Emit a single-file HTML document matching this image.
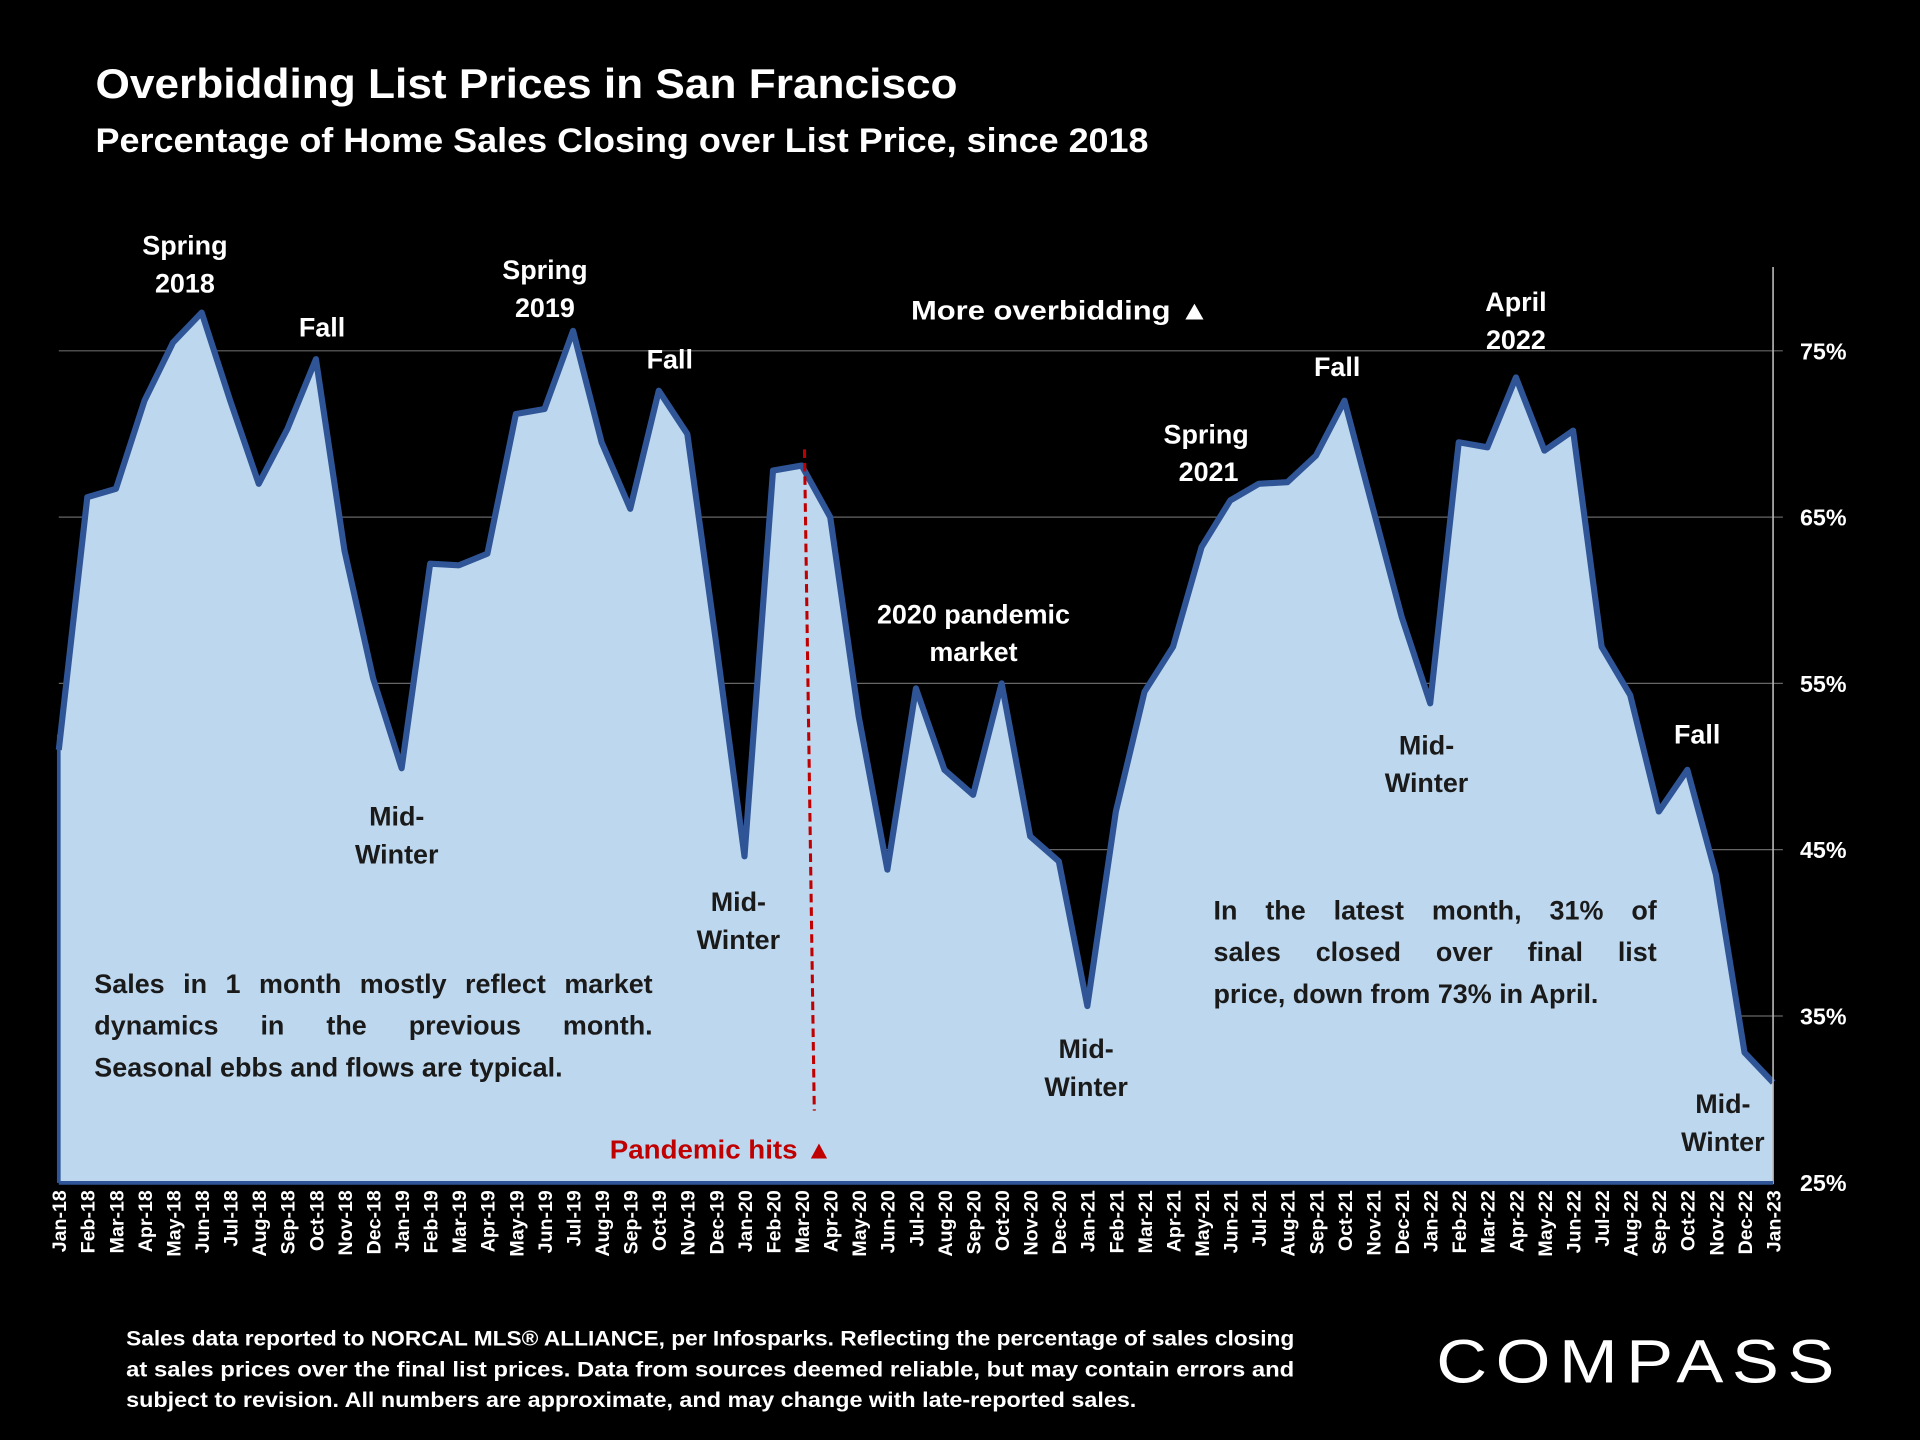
<!DOCTYPE html>
<html><head><meta charset="utf-8"><style>
html,body{margin:0;padding:0;background:#000;width:1920px;height:1440px;overflow:hidden}
svg{display:block}
text{font-family:"Liberation Sans",sans-serif;font-weight:bold}
</style></head><body>
<svg id="chart" width="1920" height="1440" viewBox="0 0 1568 1176" xmlns="http://www.w3.org/2000/svg">
<rect width="1568" height="1176" fill="#000"/>
<text x="78" y="80" fill="#fff" font-size="34" textLength="704" lengthAdjust="spacingAndGlyphs">Overbidding List Prices in San Francisco</text>
<text x="78" y="124" fill="#fff" font-size="28" textLength="860" lengthAdjust="spacingAndGlyphs">Percentage of Home Sales Closing over List Price, since 2018</text>
<g id="grid"></g>
<path id="area" fill="#bdd7ee"/>
<path id="line" fill="none" stroke="#2f5597" stroke-width="5" stroke-linejoin="round"/>
<line x1="1448" y1="218" x2="1448" y2="967" stroke="#bbb" stroke-width="1.3"/>
<line x1="48" y1="966" x2="1448" y2="966" stroke="#2f5597" stroke-width="3"/>
<line x1="48" y1="600" x2="48" y2="966" stroke="#2f5597" stroke-width="3"/>
<g id="yticks"></g>
<g id="xticks"></g>
<line x1="657" y1="367" x2="665" y2="907" stroke="#c00000" stroke-width="2.5" stroke-dasharray="7,4"/>
<text x="498" y="946" fill="#c00000" font-size="21" textLength="182" lengthAdjust="spacingAndGlyphs">Pandemic hits ▲</text>
<g font-size="22" text-anchor="middle" fill="#fff">
<text x="151" y="208">Spring</text>
<text x="151" y="239">2018</text>
<text x="263" y="275">Fall</text>
<text x="445" y="228">Spring</text>
<text x="445" y="259">2019</text>
<text x="547" y="301">Fall</text>
<text x="866" y="261" textLength="244" lengthAdjust="spacingAndGlyphs">More overbidding ▲</text>
<text x="985" y="362">Spring</text>
<text x="987" y="393">2021</text>
<text x="1092" y="307">Fall</text>
<text x="1238" y="254">April</text>
<text x="1238" y="285">2022</text>
<text x="1386" y="607">Fall</text>
<text x="795" y="509">2020 pandemic</text>
<text x="795" y="540">market</text>
</g>
<g font-size="22" text-anchor="middle" fill="#1a1a1a">
<text x="324" y="674">Mid-</text><text x="324" y="705">Winter</text>
<text x="603" y="744">Mid-</text><text x="603" y="775">Winter</text>
<text x="887" y="864">Mid-</text><text x="887" y="895">Winter</text>
<text x="1165" y="616">Mid-</text><text x="1165" y="647">Winter</text>
<text x="1407" y="909">Mid-</text><text x="1407" y="940">Winter</text>
</g>
<g id="noteL" font-size="22" fill="#1a1a1a"></g>
<g id="noteR" font-size="22" fill="#1a1a1a"></g>
<g font-size="17" fill="#fff">
<text x="103" y="1099" textLength="954" lengthAdjust="spacingAndGlyphs">Sales data reported to NORCAL MLS® ALLIANCE, per Infosparks. Reflecting the percentage of sales closing</text>
<text x="103" y="1124" textLength="954" lengthAdjust="spacingAndGlyphs">at sales prices over the final list prices. Data from sources deemed reliable, but may contain errors and</text>
<text x="103" y="1149" textLength="825" lengthAdjust="spacingAndGlyphs">subject to revision. All numbers are approximate, and may change with late-reported sales.</text>
</g>
<text x="1173" y="1129" fill="#fff" font-size="50" letter-spacing="6" textLength="332" lengthAdjust="spacingAndGlyphs" style="font-weight:normal">COMPASS</text>
</svg>
<script>
const months=["Jan-18","Feb-18","Mar-18","Apr-18","May-18","Jun-18","Jul-18","Aug-18","Sep-18","Oct-18","Nov-18","Dec-18","Jan-19","Feb-19","Mar-19","Apr-19","May-19","Jun-19","Jul-19","Aug-19","Sep-19","Oct-19","Nov-19","Dec-19","Jan-20","Feb-20","Mar-20","Apr-20","May-20","Jun-20","Jul-20","Aug-20","Sep-20","Oct-20","Nov-20","Dec-20","Jan-21","Feb-21","Mar-21","Apr-21","May-21","Jun-21","Jul-21","Aug-21","Sep-21","Oct-21","Nov-21","Dec-21","Jan-22","Feb-22","Mar-22","Apr-22","May-22","Jun-22","Jul-22","Aug-22","Sep-22","Oct-22","Nov-22","Dec-22","Jan-23"];
const values=[51,66.2,66.7,72,75.5,77.3,72,67,70.3,74.5,63,55.3,49.9,62.2,62.1,62.8,71.2,71.5,76.2,69.5,65.5,72.6,70,57.5,44.6,67.8,68.1,65,53,43.8,54.7,49.8,48.3,55,45.8,44.3,35.6,47.3,54.5,57.2,63.2,66,67,67.1,68.7,72,65.5,59,53.8,69.5,69.2,73.4,69,70.2,57.2,54.3,47.3,49.8,43.5,32.8,31];
const yTicks=[25,35,45,55,65,75];
const NS="http://www.w3.org/2000/svg";
const X0=48,X1=1448,Y25=965.5,PXPER=13.58;
function xs(i){return X0+(X1-X0)*i/(months.length-1);}
function ys(v){return Y25-(v-25)*PXPER;}
let pts=values.map((v,i)=>xs(i).toFixed(1)+","+ys(v).toFixed(1));
document.getElementById('line').setAttribute('d',"M"+pts.join("L"));
document.getElementById('area').setAttribute('d',"M"+X0+","+Y25+"L"+pts.join("L")+"L"+X1+","+Y25+"Z");
const g=document.getElementById('grid'),yt=document.getElementById('yticks'),xt=document.getElementById('xticks');
yTicks.forEach(t=>{
 if(t>25){const l=document.createElementNS(NS,'line');
 
 
 l.setAttribute('x1',X0);l.setAttribute('x2',X1+8);l.setAttribute('y1',ys(t));l.setAttribute('y2',ys(t));
 l.setAttribute('stroke','#666');l.setAttribute('stroke-width','1');g.appendChild(l);}
 const tx=document.createElementNS(NS,'text');
 
 
 tx.setAttribute('x',1470);tx.setAttribute('y',ys(t)+7);tx.setAttribute('fill','#fff');tx.setAttribute('font-size','19');
 tx.textContent=t+"%";yt.appendChild(tx);
});
months.forEach((m,i)=>{
 const tx=document.createElementNS(NS,'text');
 
 
 const x=xs(i)+6,y=972;
 tx.setAttribute('transform','translate('+x+','+y+') rotate(-90)');
 tx.setAttribute('text-anchor','end');tx.setAttribute('fill','#fff');tx.setAttribute('font-size','16');
 tx.textContent=m;xt.appendChild(tx);
});
function justify(gid,x,width,lines,y0,dy){
 const grp=document.getElementById(gid);
 lines.forEach((ln,li)=>{
  const y=y0+li*dy;
  const words=ln.split(' ');
  const last=li===lines.length-1;
  if(last){const t=document.createElementNS(NS,'text');
   
   
   t.setAttribute('x',x);t.setAttribute('y',y);t.textContent=ln;grp.appendChild(t);return;}
  const els=words.map(w=>{const t=document.createElementNS(NS,'text');
   
   
   t.setAttribute('y',y);t.textContent=w;grp.appendChild(t);return t;});
  const ws=els.map(e=>e.getComputedTextLength());
  const tot=ws.reduce((a,b)=>a+b,0);
  const gap=(width-tot)/(words.length-1);
  let cx=x;els.forEach((e,i)=>{e.setAttribute('x',cx);cx+=ws[i]+gap;});
 });
}
justify('noteL',77,456,["Sales in 1 month mostly reflect market","dynamics in the previous month.","Seasonal ebbs and flows are typical."],811,34);
justify('noteR',991,362,["In the latest month, 31% of","sales closed over final list","price, down from 73% in April."],751,34);
</script>
</body></html>
